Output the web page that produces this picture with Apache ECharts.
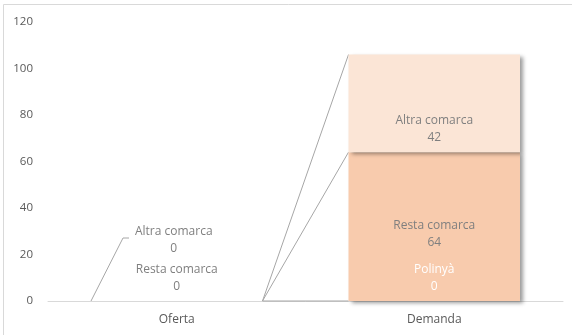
<!DOCTYPE html>
<html>
<head>
<meta charset="utf-8">
<script src="https://cdn.jsdelivr.net/npm/echarts@6/dist/echarts.min.js"></script>
<style>
  html, body { margin: 0; padding: 0; background: #fff; }
  #main { width: 572px; height: 335px; }
</style>
</head>
<body>
<div id="main"></div>
<script>
// categories and values
var categories = ['Oferta', 'Demanda'];
var polinya = [0, 0];
var restaComarca = [0, 64];
var altraComarca = [0, 42];
var yTicks = [0, 20, 40, 60, 80, 100, 120];

var BAR_FRAC = 0.666;
var FONT = 'Open Sans';
var txtGrey = '#7f7f7f';

var chart = echarts.init(document.getElementById('main'));

// label per item: Oferta labels are moved up, Demanda labels inside the segment
function withData(vals, color, offsets) {
    return vals.map(function (v, i) {
        return { value: v, label: { offset: offsets[i], color: color } };
    });
}

var shadow = {
    shadowColor: 'rgba(0,0,0,0.4)',
    shadowBlur: 4,
    shadowOffsetX: 3,
    shadowOffsetY: 2
};

function barSeries(name, vals, color, labelColor, offsets) {
    return {
        name: name,
        type: 'bar',
        stack: 'total',
        barCategoryGap: '33.4%',
        data: withData(vals, labelColor, offsets),
        itemStyle: Object.assign({ color: color }, shadow),
        label: {
            show: true,
            position: 'inside',
            formatter: '{a}\n{c}',
            fontFamily: FONT,
            fontSize: 12,
            lineHeight: 17,
            color: txtGrey
        },
        z: 2
    };
}

// running totals used by the series lines between the two bars
function cum(i) {
    return [polinya[i], polinya[i] + restaComarca[i], polinya[i] + restaComarca[i] + altraComarca[i]];
}
var cumO = cum(0), cumD = cum(1);
var seriesLineData = cumO.map(function (v, k) { return [v, cumD[k]]; });

var option = {
    animation: false,
    textStyle: { fontFamily: FONT },
    grid: { left: 48, right: 9, top: 22, bottom: 34, containLabel: false },
    graphic: [{
        type: 'rect',
        shape: { x: 3.5, y: 4.5, width: 700, height: 500 },
        style: { fill: 'none', stroke: '#d9d9d9', lineWidth: 1 },
        silent: true
    }],
    xAxis: {
        type: 'category',
        data: categories,
        axisTick: { show: false },
        axisLine: { lineStyle: { color: '#d9d9d9', width: 1 } },
        axisLabel: { color: '#595959', fontSize: 12, margin: 13, fontFamily: FONT }
    },
    yAxis: {
        type: 'value',
        min: yTicks[0],
        max: yTicks[yTicks.length - 1],
        interval: 20,
        axisLine: { show: false },
        axisTick: { show: false },
        splitLine: { show: false },
        axisLabel: { color: '#595959', fontSize: 11.5, margin: 15, fontFamily: FONT }
    },
    series: [
        barSeries('Polinyà', polinya, '#f4b183', '#ffffff', [[0, -23], [0, -23]]),
        barSeries('Resta comarca', restaComarca, '#f8cbad', txtGrey, [[0, -23], [0, 7]]),
        barSeries('Altra comarca', altraComarca, '#fbe5d6', txtGrey, [[-3, -61], [0, 26]]),
        {
            // Excel style series lines: Oferta right edge -> Demanda left edge
            type: 'custom',
            data: seriesLineData,
            encode: { x: -1, y: [0, 1] },
            renderItem: function (params, api) {
                var half = api.size([1, 0])[0] * BAR_FRAC / 2;
                var a = api.coord([0, api.value(0)]);
                var b = api.coord([1, api.value(1)]);
                return {
                    type: 'line',
                    shape: { x1: a[0] + half, y1: a[1], x2: b[0] - half, y2: b[1] },
                    style: { stroke: '#a6a6a6', lineWidth: 1 }
                };
            },
            z: 1,
            silent: true
        },
        {
            // leader line of the moved "Altra comarca" label on Oferta
            type: 'custom',
            data: [[0, cumO[2]]],
            encode: { x: -1, y: 1 },
            renderItem: function (params, api) {
                var half = api.size([1, 0])[0] * BAR_FRAC / 2;
                var p = api.coord([api.value(0), api.value(1)]);
                var x0 = p[0] - half;
                return {
                    type: 'polyline',
                    shape: { points: [[x0, p[1]], [x0 + 32, p[1] - 63], [x0 + 38, p[1] - 63]] },
                    style: { stroke: '#a6a6a6', lineWidth: 1, fill: 'none' }
                };
            },
            z: 3,
            silent: true
        }
    ]
};

chart.setOption(option);
window.addEventListener('resize', chart.resize);
</script>
</body>
</html>
